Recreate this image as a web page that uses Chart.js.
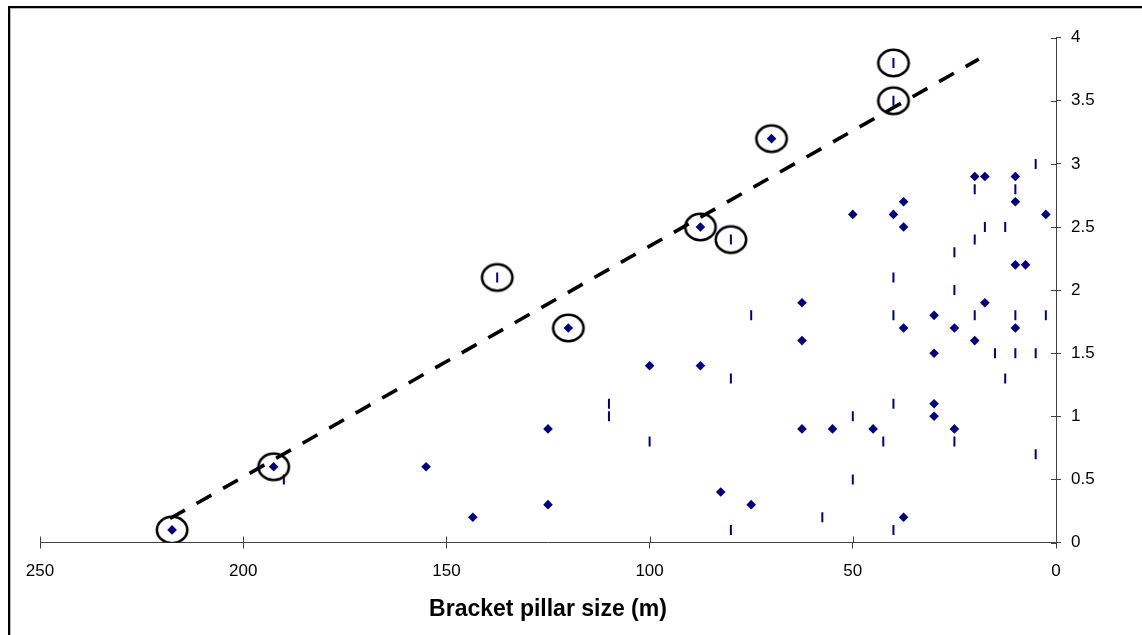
<!DOCTYPE html>
<html>
<head>
<meta charset="utf-8">
<title>Bracket pillar size</title>
<script src="https://cdn.jsdelivr.net/npm/chart.js@4.4.1/dist/chart.umd.min.js"></script>
<style>
  html, body { margin: 0; padding: 0; background: #fff; overflow: hidden; }
  #wrap { position: relative; width: 1142px; height: 635px; }
  #chart { position: absolute; left: 0; top: 0; }
  #frame {
    position: absolute; left: 8px; top: 6px; width: 1200px; height: 700px;
    border-left: 2px solid #000; border-top: 2px solid #000;
    box-shadow: inset 1px 1px 0 #b8b8b8; pointer-events: none;
  }
</style>
</head>
<body>
<div id="wrap">
  <canvas id="chart" width="1142" height="635"></canvas>
  <div id="frame"></div>
</div>
<script>
// Pillar size (m) vs. value, two marker groups
const diamondX = [217.5, 192.5, 155, 143.5, 125, 125, 120, 100, 87.5, 87.5,
                  82.5, 75, 70, 62.5, 62.5, 62.5, 55, 50, 45, 40,
                  37.5, 37.5, 37.5, 37.5, 30, 30, 30, 30, 25, 25,
                  20, 20, 17.5, 17.5, 10, 10, 10, 10, 7.5, 2.5];
const diamondY = [0.1, 0.6, 0.6, 0.2, 0.9, 0.3, 1.7, 1.4, 1.4, 2.5,
                  0.4, 0.3, 3.2, 1.9, 1.6, 0.9, 0.9, 2.6, 0.9, 2.6,
                  2.7, 2.5, 1.7, 0.2, 1.8, 1.5, 1.1, 1.0, 1.7, 0.9,
                  2.9, 1.6, 2.9, 1.9, 2.9, 2.7, 2.2, 1.7, 2.2, 2.6];

const dashX = [190, 137.5, 110, 110, 100, 80, 80, 80, 75, 57.5,
               50, 50, 42.5, 40, 40, 40, 40, 40, 40, 25,
               25, 25, 20, 20, 20, 17.5, 15, 12.5, 12.5, 10,
               10, 10, 5, 5, 5, 2.5];
const dashY = [0.5, 2.1, 1.1, 1.0, 0.8, 2.4, 1.3, 0.1, 1.8, 0.2,
               1.0, 0.5, 0.8, 3.8, 3.5, 2.1, 1.8, 1.1, 0.1, 2.3,
               2.0, 0.8, 2.8, 2.4, 1.8, 2.5, 1.5, 2.5, 1.3, 2.8,
               1.8, 1.5, 3.0, 1.5, 0.7, 1.8];

// Highlighted (ringed) points
const circledX = [217.5, 192.5, 137.5, 120, 87.5, 80, 70, 40, 40];
const circledY = [0.1, 0.6, 2.1, 1.7, 2.5, 2.4, 3.2, 3.5, 3.8];

// Upper envelope line
const trendX = [218, 19];
const trendY = [0.19, 3.83];

const xTickValues = [0, 50, 100, 150, 200, 250];
const xTickLabels = ['0', '50', '100', '150', '200', '250'];
const yTickValues = [0, 0.5, 1, 1.5, 2, 2.5, 3, 3.5, 4];
const yTickLabels = ['0', '0.5', '1', '1.5', '2', '2.5', '3', '3.5', '4'];

const NAVY = '#000080';
const AXIS = '#404040';
const FONT = "'Liberation Sans', Arial, sans-serif";

const toPoints = (xs, ys) => xs.map((x, i) => ({ x, y: ys[i] }));

// Hand-drawn style ring used as the point style for highlighted points
const ring = document.createElement('canvas');
ring.width = 38; ring.height = 34;
{
  const c = ring.getContext('2d');
  c.strokeStyle = '#000';
  c.lineWidth = 2.6;
  c.beginPath();
  c.ellipse(19, 17, 15.2, 13.2, 0, 0, Math.PI * 2);
  c.stroke();
}

// Axis tick marks that cross the axis line (inner half)
const innerTicks = {
  id: 'innerTicks',
  afterDraw(chart) {
    const { ctx } = chart;
    const xs = chart.scales.x, ys = chart.scales.y;
    ctx.save();
    ctx.strokeStyle = AXIS;
    ctx.lineWidth = 1;
    ctx.beginPath();
    xTickValues.forEach(v => {
      const px = Math.round(xs.getPixelForValue(v)) + 0.5;
      ctx.moveTo(px, xs.top - 6);
      ctx.lineTo(px, xs.top);
    });
    yTickValues.forEach(v => {
      const py = Math.round(ys.getPixelForValue(v)) + 0.5;
      ctx.moveTo(ys.left - 5, py);
      ctx.lineTo(ys.left, py);
    });
    ctx.stroke();
    ctx.restore();
  }
};

new Chart(document.getElementById('chart'), {
  type: 'scatter',
  data: {
    datasets: [
      {
        label: 'ringed',
        data: toPoints(circledX, circledY),
        pointStyle: ring,
        pointRadius: 16,
        showLine: false
      },
      {
        label: 'trend',
        type: 'line',
        data: toPoints(trendX, trendY),
        borderColor: '#000',
        borderWidth: 3.6,
        borderDash: [17, 13.5],
        borderCapStyle: 'butt',
        pointRadius: 0,
        fill: false,
        tension: 0
      },
      {
        label: 'dash',
        data: toPoints(dashX, dashY),
        pointStyle: 'line',
        rotation: 90,
        pointRadius: 5,
        borderColor: NAVY,
        borderWidth: 2,
        backgroundColor: NAVY
      },
      {
        label: 'diamond',
        data: toPoints(diamondX, diamondY),
        pointStyle: 'rectRot',
        pointRadius: 4.8,
        backgroundColor: NAVY,
        borderWidth: 0
      }
    ]
  },
  options: {
    responsive: false,
    animation: false,
    events: [],
    layout: { padding: { left: 40, top: 37.7, right: 0, bottom: 0 } },
    plugins: { legend: { display: false }, tooltip: { enabled: false } },
    scales: {
      x: {
        type: 'linear',
        reverse: true,
        min: 0,
        max: 250,
        afterBuildTicks: s => { s.ticks = xTickValues.map(v => ({ value: v })); },
        afterFit: s => { s.height = 92.5; },
        ticks: {
          color: '#000', font: { family: FONT, size: 17 }, padding: 13, maxRotation: 0,
          callback: v => xTickLabels[xTickValues.indexOf(v)]
        },
        grid: { display: true, drawOnChartArea: false, drawTicks: true, tickLength: 6, color: AXIS },
        border: { display: true, color: AXIS, width: 1 },
        title: {
          display: true,
          text: 'Bracket pillar size (m)',
          color: '#000',
          font: { family: FONT, size: 23, weight: 'bold' },
          padding: { top: 0, bottom: 12 }
        }
      },
      y: {
        type: 'linear',
        position: 'right',
        min: 0,
        max: 4,
        afterBuildTicks: s => { s.ticks = yTickValues.map(v => ({ value: v })); },
        afterFit: s => { s.width = 86; },
        ticks: {
          color: '#000', font: { family: FONT, size: 17 }, padding: 10,
          callback: v => yTickLabels[yTickValues.indexOf(v)]
        },
        grid: { display: true, drawOnChartArea: false, drawTicks: true, tickLength: 5, color: AXIS },
        border: { display: true, color: AXIS, width: 1 }
      }
    }
  },
  plugins: [innerTicks]
});
</script>
</body>
</html>
